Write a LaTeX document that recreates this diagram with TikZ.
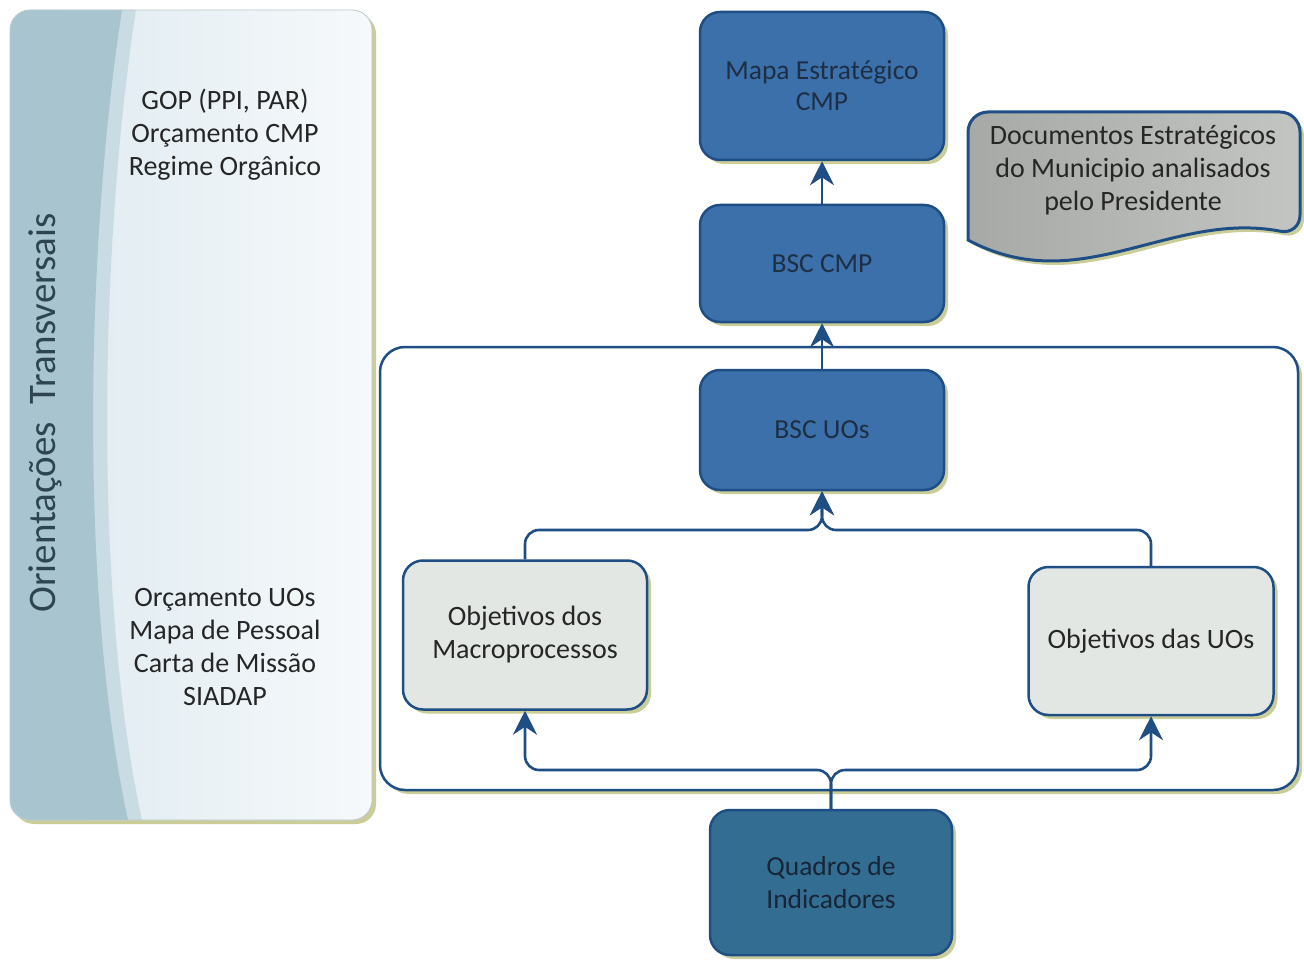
\documentclass[tikz,border=0pt]{standalone}
\usepackage{fontspec}
\setmainfont{Carlito}
\usetikzlibrary{arrows.meta,shadows}
\definecolor{navy}{HTML}{1F4E85}
\definecolor{boxblue}{HTML}{3B70AA}
\definecolor{boxteal}{HTML}{346D92}
\definecolor{boxtext}{HTML}{1E2F45}
\definecolor{lightbox}{HTML}{E3E7E4}
\definecolor{stripe}{HTML}{A8C5CF}
\definecolor{stripeband}{HTML}{C9DCE3}
\definecolor{panelL}{HTML}{DCE9EF}
\definecolor{panelR}{HTML}{F6F9FB}
\definecolor{shadowc}{HTML}{CBCD98}
\definecolor{txt}{HTML}{262626}
\definecolor{sidetxt}{HTML}{2E4550}
\definecolor{docL}{HTML}{A6A9A6}
\definecolor{docR}{HTML}{C3C5C2}
\tikzset{
  shadowed/.style={drop shadow={shadow xshift=4pt, shadow yshift=-4pt, fill=shadowc, opacity=1}},
  darkbox/.style={shadowed, draw=navy, line width=2.5pt, fill=boxblue, rounded corners=20pt,
    text=boxtext, font=\fontsize{27.5}{31}\selectfont, align=center, inner sep=0pt},
  lightboxs/.style={shadowed, draw=navy, line width=2.5pt, fill=lightbox, rounded corners=20pt,
    text=txt, font=\fontsize{28}{33}\selectfont, align=center, inner sep=0pt,
    minimum width=244pt, minimum height=149pt},
  conn/.style={draw=navy, line width=2.6pt, arrows={-Stealth[length=24pt, width=24pt, inset=8pt]}},
  paneltext/.style={text=txt, font=\fontsize{28}{33}\selectfont, align=center},
}
\begin{document}
\begin{tikzpicture}[x=1pt,y=-1pt]
\useasboundingbox (0,0) rectangle (1304,960);
\fill[white] (0,0) rectangle (1304,960);

% left panel
\fill[shadowc, rounded corners=20pt] (14,14) rectangle (376,824);
\begin{scope}
  \clip[rounded corners=20pt] (10,10) rectangle (372,820);
  \shade[left color=panelL, right color=panelR] (10,10) rectangle (372,820);
  \fill[stripeband] (10,10) -- (136,10) .. controls (99,250) and (94,600) .. (142,820) -- (10,820) -- cycle;
  \fill[stripe] (10,10) -- (122,10) .. controls (85,250) and (80,600) .. (128,820) -- (10,820) -- cycle;
\end{scope}
\draw[draw=stripeband!80!gray, line width=0.8pt, rounded corners=20pt] (10,10) rectangle (372,820);
\node[rotate=90, text=sidetxt, font=\fontsize{39}{42}\selectfont] (side) at (45,413) {Orientações\ \ Transversais};
\node[paneltext] (top) at (225,135) {GOP (PPI, PAR)\\Orçamento CMP\\Regime Orgânico};
\node[paneltext] (bot) at (225,647.5) {Orçamento UOs\\Mapa de Pessoal\\Carta de Missão\\SIADAP};

% container
\draw[shadowed, draw=navy, line width=2.5pt, fill=white, rounded corners=25pt] (380,347) rectangle (1298,790);

% document shape
\shadedraw[shadowed, draw=navy, line width=3pt, left color=docL, right color=docR]
  [rounded corners=20pt] (968,240) -- (968,112) -- (1300,112) -- (1300,235)
  [sharp corners] .. controls (1170,210) and (1080,300) .. (968,240) -- cycle;
\node[text=txt, font=\fontsize{28}{33}\selectfont, align=center] (doc) at (1133,170)
  {Documentos Estratégicos\\do Municipio analisados\\pelo Presidente};

% boxes
\node[darkbox, minimum width=244pt, minimum height=148pt] (mapa) at (822,86) {Mapa Estratégico\\CMP};
\node[darkbox, minimum width=244pt, minimum height=117pt] (bsccmp) at (822,263.5) {BSC CMP};
\node[darkbox, minimum width=244pt, minimum height=120pt] (bscuo) at (822,430) {BSC UOs};
\node[lightboxs] (macro) at (525,635) {Objetivos dos\\Macroprocessos};
\node[lightboxs, minimum width=245pt, minimum height=148pt] (uos) at (1151,641) {Objetivos das UOs};
\node[darkbox, fill=boxteal, text=boxtext!80!black, font=\fontsize{27.5}{33}\selectfont, minimum width=242pt, minimum height=145pt] (quad) at (831,882.5) {Quadros de\\Indicadores};

% connectors
\coordinate (mj) at (822,530);
\coordinate (sj) at (831,770);
\draw[conn] (bsccmp.north) -- (mapa.south);
\draw[conn] (bscuo.north) -- (bsccmp.south);
\draw[conn, rounded corners=14pt] (macro.north) |- (mj) -- (bscuo.south);
\draw[conn, rounded corners=14pt] (uos.north) |- (mj) -- (bscuo.south);
\draw[conn, rounded corners=14pt] (quad.north) -- (sj) -| (macro.south);
\draw[conn, rounded corners=14pt] (quad.north) -- (sj) -| (uos.south);
\end{tikzpicture}
\end{document}
